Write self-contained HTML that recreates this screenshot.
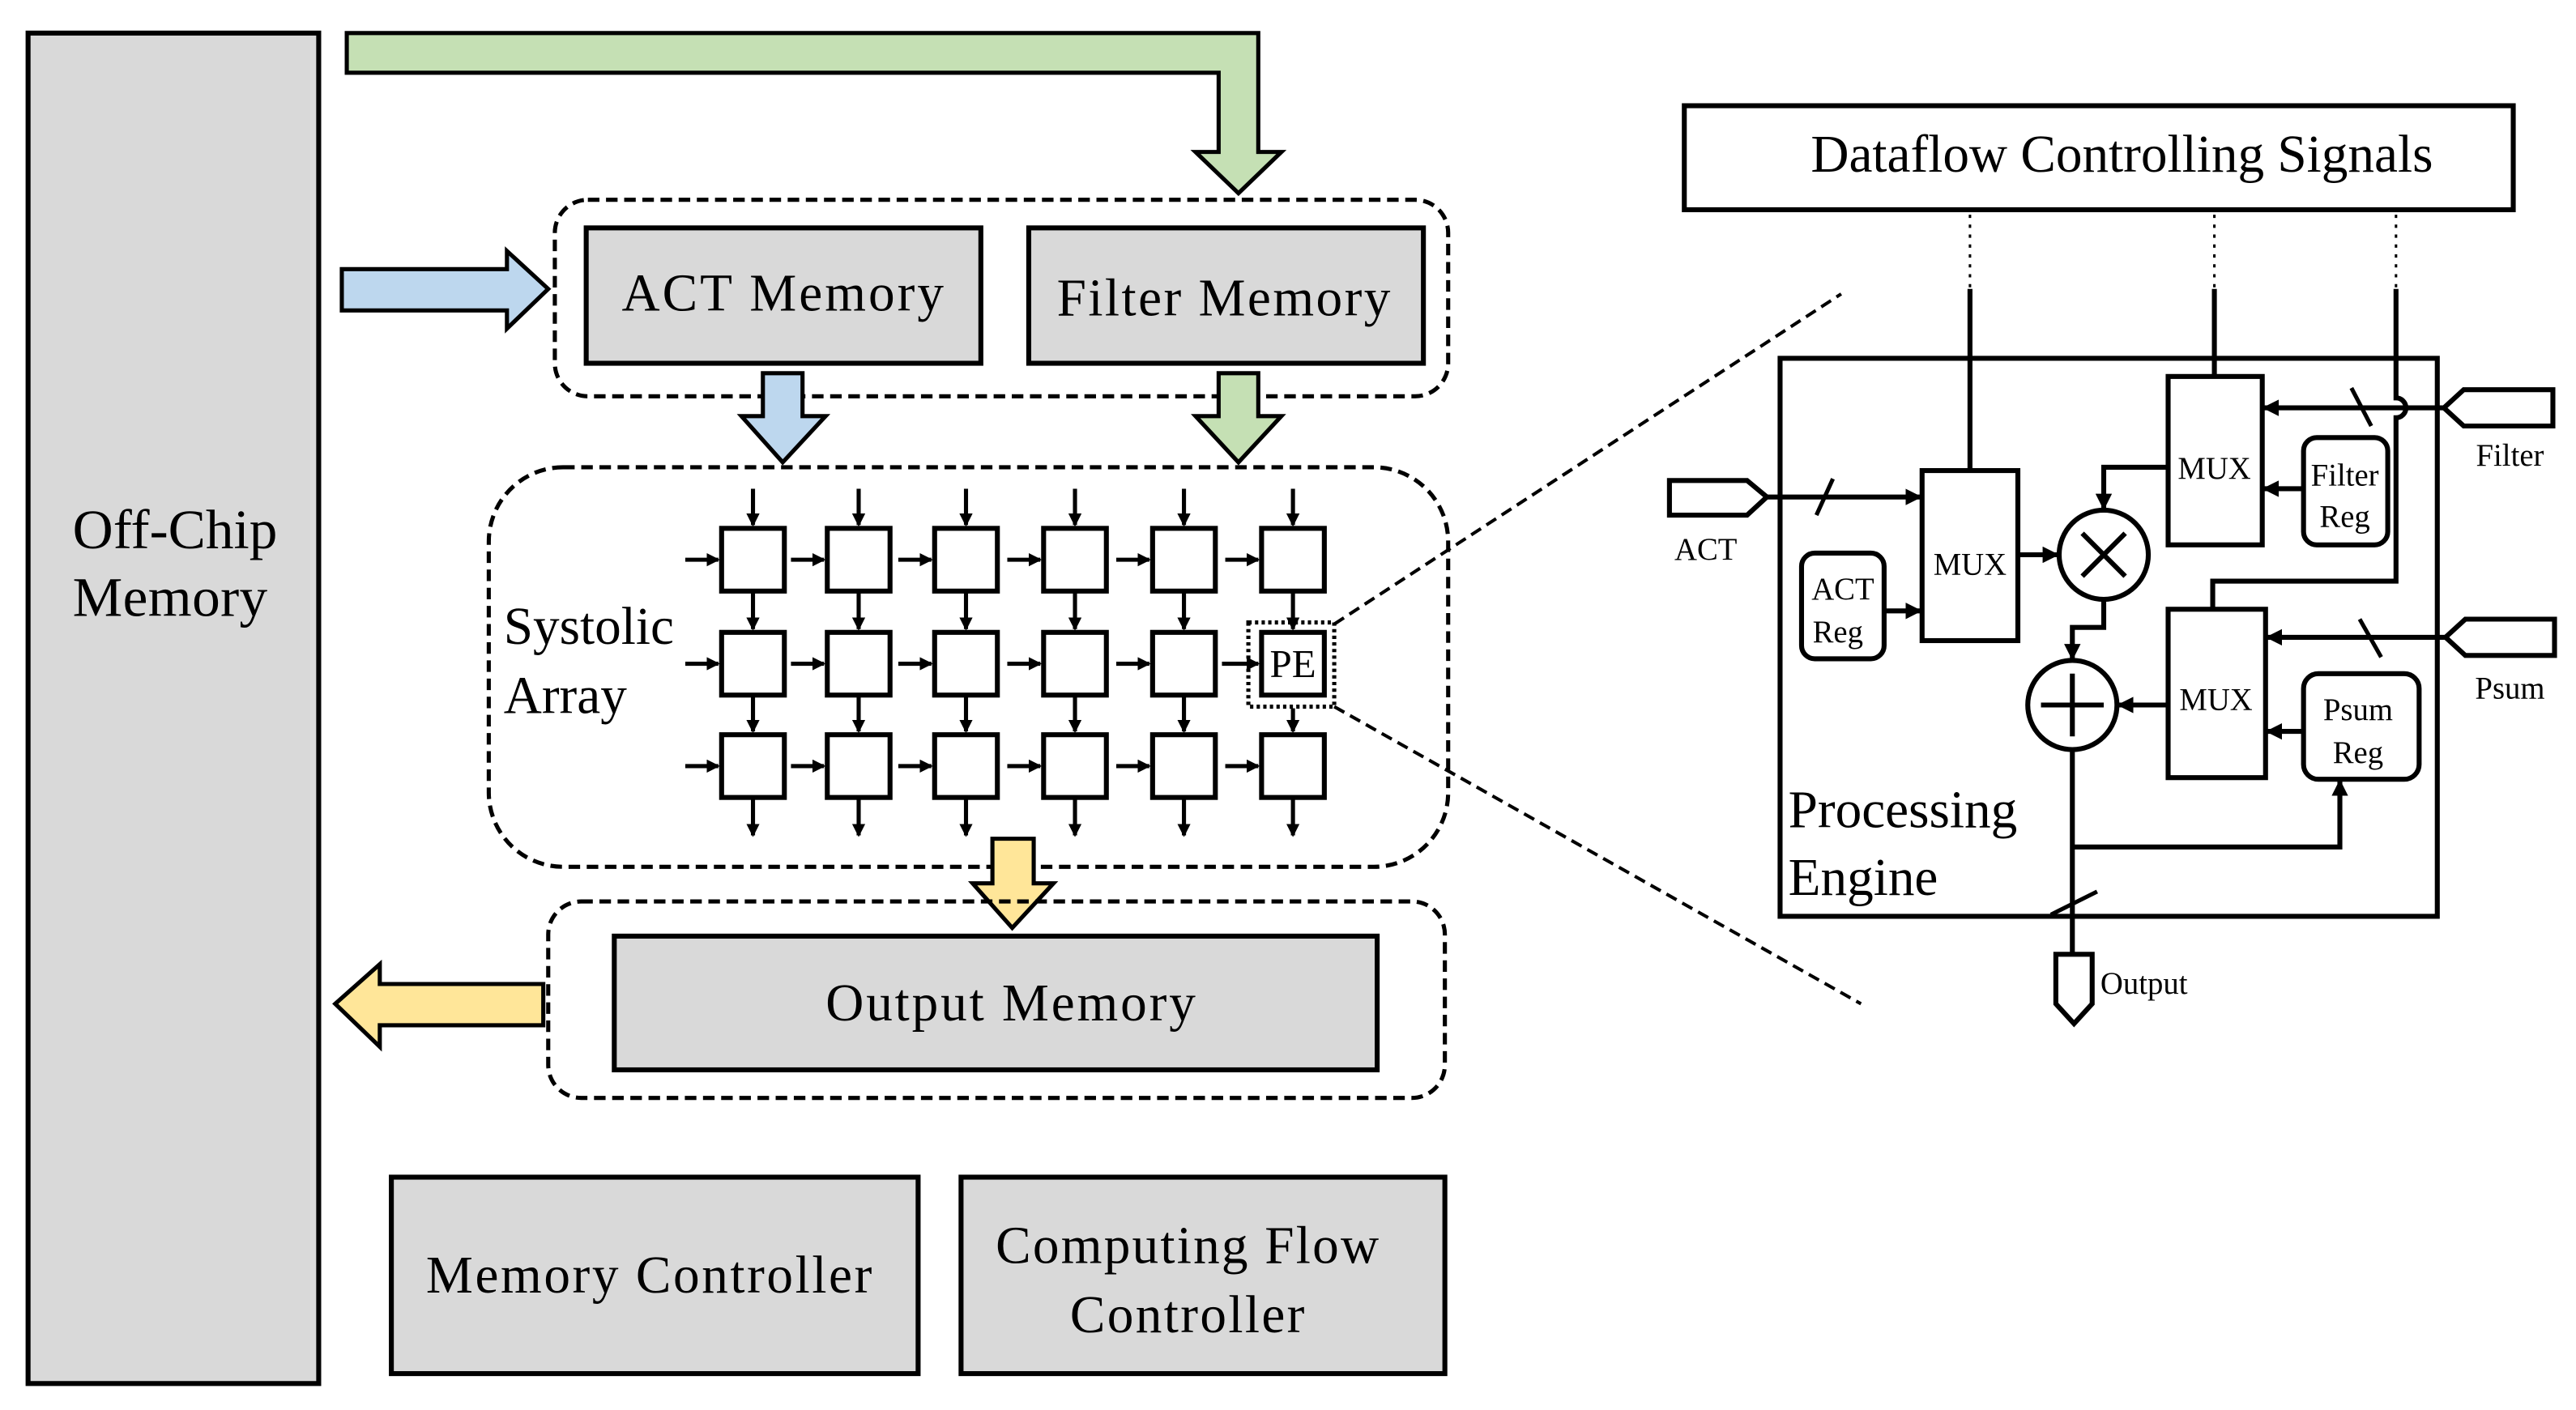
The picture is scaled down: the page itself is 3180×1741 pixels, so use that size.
<!DOCTYPE html>
<html><head><meta charset="utf-8"><style>
html,body{margin:0;padding:0;background:#fff;}
svg{display:block;}
text{font-family:"Liberation Serif",serif;fill:#000;}
</style></head><body>
<svg width="3180" height="1741" viewBox="0 0 1560 854" xmlns="http://www.w3.org/2000/svg">
<defs>
<marker id="ah" markerWidth="8" markerHeight="8" refX="7" refY="4" orient="auto" markerUnits="userSpaceOnUse">
<path d="M0,0 L8,4 L0,8 Z" fill="#000"/></marker>
<marker id="as" markerWidth="10" markerHeight="10" refX="9" refY="5" orient="auto" markerUnits="userSpaceOnUse">
<path d="M0,0 L10,5 L0,10 Z" fill="#000"/></marker>
</defs>
<rect x="17" y="20" width="176" height="818" fill="#d9d9d9" stroke="#000" stroke-width="3"/>
<text x="44" y="332" font-size="34" textLength="124">Off-Chip</text>
<text x="44" y="373" font-size="34" textLength="118">Memory</text>
<path d="M210,20 L762,20 L762,92 L776,92 L750,117 L724,92 L738,92 L738,44 L210,44 Z" fill="#c5e0b4" stroke="#000" stroke-width="2.5"/>
<path d="M207,163 L307,163 L307,152 L332,175 L307,199 L307,188 L207,188 Z" fill="#bdd7ee" stroke="#000" stroke-width="2.5"/>
<rect x="336" y="121" width="541" height="119" rx="20" fill="none" stroke="#000" stroke-width="2.5" stroke-dasharray="7,4"/>
<rect x="355" y="138" width="239" height="82" fill="#d9d9d9" stroke="#000" stroke-width="3"/>
<text x="474" y="188" font-size="32" text-anchor="middle" textLength="195">ACT Memory</text>
<rect x="623" y="138" width="239" height="82" fill="#d9d9d9" stroke="#000" stroke-width="3"/>
<text x="741" y="191" font-size="32" text-anchor="middle" textLength="202">Filter Memory</text>
<path d="M462,226 L486,226 L486,252 L500,252 L474,280 L449,252 L462,252 Z" fill="#bdd7ee" stroke="#000" stroke-width="2.5"/>
<path d="M738,226 L762,226 L762,252 L776,252 L750,280 L724,252 L738,252 Z" fill="#c5e0b4" stroke="#000" stroke-width="2.5"/>
<rect x="296" y="283" width="581" height="242" rx="45" fill="none" stroke="#000" stroke-width="2.5" stroke-dasharray="7,4"/>
<text x="305" y="390" font-size="32">Systolic</text>
<text x="305" y="432" font-size="32">Array</text>
<g stroke="#000" stroke-width="3" fill="#fff">
<rect x="437" y="320" width="38" height="38"/><rect x="501" y="320" width="38" height="38"/><rect x="566" y="320" width="38" height="38"/><rect x="632" y="320" width="38" height="38"/><rect x="698" y="320" width="38" height="38"/><rect x="764" y="320" width="38" height="38"/>
<rect x="437" y="383" width="38" height="38"/><rect x="501" y="383" width="38" height="38"/><rect x="566" y="383" width="38" height="38"/><rect x="632" y="383" width="38" height="38"/><rect x="698" y="383" width="38" height="38"/><rect x="764" y="383" width="38" height="38"/>
<rect x="437" y="445" width="38" height="38"/><rect x="501" y="445" width="38" height="38"/><rect x="566" y="445" width="38" height="38"/><rect x="632" y="445" width="38" height="38"/><rect x="698" y="445" width="38" height="38"/><rect x="764" y="445" width="38" height="38"/>
</g>
<rect x="756" y="377" width="52" height="51" fill="none" stroke="#000" stroke-width="2.5" stroke-dasharray="2,2"/>
<text x="783" y="410" font-size="24" text-anchor="middle">PE</text>
<g stroke="#000" stroke-width="2.5" marker-end="url(#ah)">
<line x1="456" y1="296" x2="456" y2="318"/><line x1="520" y1="296" x2="520" y2="318"/><line x1="585" y1="296" x2="585" y2="318"/><line x1="651" y1="296" x2="651" y2="318"/><line x1="717" y1="296" x2="717" y2="318"/><line x1="783" y1="296" x2="783" y2="318"/>
<line x1="456" y1="359" x2="456" y2="381"/><line x1="520" y1="359" x2="520" y2="381"/><line x1="585" y1="359" x2="585" y2="381"/><line x1="651" y1="359" x2="651" y2="381"/><line x1="717" y1="359" x2="717" y2="381"/><line x1="783" y1="359" x2="783" y2="381"/>
<line x1="456" y1="422" x2="456" y2="443"/><line x1="520" y1="422" x2="520" y2="443"/><line x1="585" y1="422" x2="585" y2="443"/><line x1="651" y1="422" x2="651" y2="443"/><line x1="717" y1="422" x2="717" y2="443"/><line x1="783" y1="429" x2="783" y2="443"/>
<line x1="456" y1="484" x2="456" y2="506"/><line x1="520" y1="484" x2="520" y2="506"/><line x1="585" y1="484" x2="585" y2="506"/><line x1="651" y1="484" x2="651" y2="506"/><line x1="717" y1="484" x2="717" y2="506"/><line x1="783" y1="484" x2="783" y2="506"/>
<line x1="415" y1="339" x2="435" y2="339"/><line x1="479" y1="339" x2="499" y2="339"/><line x1="544" y1="339" x2="564" y2="339"/><line x1="610" y1="339" x2="630" y2="339"/><line x1="676" y1="339" x2="696" y2="339"/><line x1="742" y1="339" x2="762" y2="339"/>
<line x1="415" y1="402" x2="435" y2="402"/><line x1="479" y1="402" x2="499" y2="402"/><line x1="544" y1="402" x2="564" y2="402"/><line x1="610" y1="402" x2="630" y2="402"/><line x1="676" y1="402" x2="696" y2="402"/><line x1="740" y1="402" x2="762" y2="402"/>
<line x1="415" y1="464" x2="435" y2="464"/><line x1="479" y1="464" x2="499" y2="464"/><line x1="544" y1="464" x2="564" y2="464"/><line x1="610" y1="464" x2="630" y2="464"/><line x1="676" y1="464" x2="696" y2="464"/><line x1="742" y1="464" x2="762" y2="464"/>
</g>
<path d="M601,508 L626,508 L626,535 L638,535 L613,562 L589,535 L601,535 Z" fill="#ffe699" stroke="#000" stroke-width="2.5"/>
<rect x="332" y="546" width="543" height="119" rx="20" fill="none" stroke="#000" stroke-width="2.5" stroke-dasharray="7,4"/>
<rect x="372" y="567" width="462" height="81" fill="#d9d9d9" stroke="#000" stroke-width="3"/>
<text x="612" y="618" font-size="32" text-anchor="middle" textLength="224">Output Memory</text>
<path d="M329,596 L230,596 L230,584 L203,608 L230,634 L230,621 L329,621 Z" fill="#ffe699" stroke="#000" stroke-width="2.5"/>
<rect x="237" y="713" width="319" height="119" fill="#d9d9d9" stroke="#000" stroke-width="3"/>
<text x="393" y="783" font-size="32" text-anchor="middle" textLength="270">Memory Controller</text>
<rect x="582" y="713" width="293" height="119" fill="#d9d9d9" stroke="#000" stroke-width="3"/>
<text x="719" y="765" font-size="32" text-anchor="middle" textLength="232">Computing Flow</text>
<text x="719" y="807" font-size="32" text-anchor="middle" textLength="142">Controller</text>
<line x1="808" y1="378" x2="1115" y2="178" stroke="#000" stroke-width="2" stroke-dasharray="7,4"/>
<line x1="808" y1="428" x2="1127" y2="608" stroke="#000" stroke-width="2" stroke-dasharray="7,4"/>
<rect x="1020" y="64" width="502" height="63" fill="#fff" stroke="#000" stroke-width="3"/>
<text x="1285" y="104" font-size="32" text-anchor="middle">Dataflow Controlling Signals</text>
<rect x="1078" y="217" width="398" height="338" fill="none" stroke="#000" stroke-width="3"/>
<g stroke="#000" stroke-width="1.5" stroke-dasharray="2,4">
<line x1="1193" y1="130" x2="1193" y2="175"/><line x1="1341" y1="130" x2="1341" y2="175"/><line x1="1451" y1="130" x2="1451" y2="175"/>
</g>
<g stroke="#000" stroke-width="3" fill="none">
<line x1="1193" y1="175" x2="1193" y2="285"/>
<line x1="1341" y1="175" x2="1341" y2="228"/>
<path d="M1451,175 L1451,241 A6,6 0 0 1 1451,253 L1451,352 L1340,352 L1340,369"/>
<line x1="1100" y1="312" x2="1110" y2="290" stroke-width="2.5"/>
<line x1="1424" y1="235" x2="1436" y2="258" stroke-width="2.5"/>
<line x1="1429" y1="375" x2="1442" y2="398" stroke-width="2.5"/>
<line x1="1242" y1="554" x2="1270" y2="540" stroke-width="2.5"/>
</g>
<g stroke="#000" stroke-width="3" fill="none" marker-end="url(#as)">
<line x1="1070" y1="301" x2="1163" y2="301"/>
<line x1="1141" y1="370" x2="1163" y2="370"/>
<line x1="1222" y1="336" x2="1246" y2="336"/>
<line x1="1480" y1="247" x2="1371" y2="247"/>
<line x1="1395" y1="296" x2="1371" y2="296"/>
<path d="M1313,283 L1274,283 L1274,308"/>
<path d="M1274,363 L1274,380 L1255,380 L1255,399"/>
<line x1="1481" y1="386" x2="1373" y2="386"/>
<line x1="1395" y1="443" x2="1373" y2="443"/>
<line x1="1313" y1="427" x2="1283" y2="427"/>
<path d="M1255,513 L1417,513 L1417,473"/>
</g>
<line x1="1255" y1="454" x2="1255" y2="578" stroke="#000" stroke-width="3"/>
<rect x="1164" y="285" width="58" height="103" fill="#fff" stroke="#000" stroke-width="3"/>
<text x="1193" y="348" font-size="19" text-anchor="middle">MUX</text>
<rect x="1313" y="228" width="57" height="102" fill="#fff" stroke="#000" stroke-width="3"/>
<text x="1341" y="290" font-size="19" text-anchor="middle">MUX</text>
<rect x="1313" y="369" width="59" height="102" fill="#fff" stroke="#000" stroke-width="3"/>
<text x="1342" y="430" font-size="19" text-anchor="middle">MUX</text>
<rect x="1091" y="335" width="50" height="64" rx="8" fill="#fff" stroke="#000" stroke-width="3"/>
<text x="1116" y="363" font-size="19" text-anchor="middle">ACT</text>
<text x="1113" y="389" font-size="19" text-anchor="middle">Reg</text>
<rect x="1395" y="265" width="51" height="65" rx="8" fill="#fff" stroke="#000" stroke-width="3"/>
<text x="1420" y="294" font-size="19" text-anchor="middle">Filter</text>
<text x="1420" y="319" font-size="19" text-anchor="middle">Reg</text>
<rect x="1395" y="408" width="70" height="64" rx="9" fill="#fff" stroke="#000" stroke-width="3"/>
<text x="1428" y="436" font-size="19" text-anchor="middle">Psum</text>
<text x="1428" y="462" font-size="19" text-anchor="middle">Reg</text>
<circle cx="1274" cy="336" r="27" fill="#fff" stroke="#000" stroke-width="3"/>
<path d="M1261,323 L1287,349 M1287,323 L1261,349" stroke="#000" stroke-width="3"/>
<circle cx="1255" cy="427" r="27" fill="#fff" stroke="#000" stroke-width="3"/>
<path d="M1236,427 L1274,427 M1255,408 L1255,446" stroke="#000" stroke-width="3"/>
<path d="M1011,291 L1058,291 L1070,301 L1058,312 L1011,312 Z" fill="#fff" stroke="#000" stroke-width="3"/>
<text x="1033" y="339" font-size="19" text-anchor="middle">ACT</text>
<path d="M1546,236 L1492,236 L1480,247 L1492,258 L1546,258 Z" fill="#fff" stroke="#000" stroke-width="3"/>
<text x="1520" y="282" font-size="19" text-anchor="middle">Filter</text>
<path d="M1547,375 L1493,375 L1481,386 L1493,397 L1547,397 Z" fill="#fff" stroke="#000" stroke-width="3"/>
<text x="1520" y="423" font-size="19" text-anchor="middle">Psum</text>
<path d="M1245,578 L1267,578 L1267,608 L1256,620 L1245,608 Z" fill="#fff" stroke="#000" stroke-width="3"/>
<text x="1272" y="602" font-size="19">Output</text>
<text x="1083" y="501" font-size="32">Processing</text>
<text x="1083" y="542" font-size="32">Engine</text>
</svg>
</body></html>
